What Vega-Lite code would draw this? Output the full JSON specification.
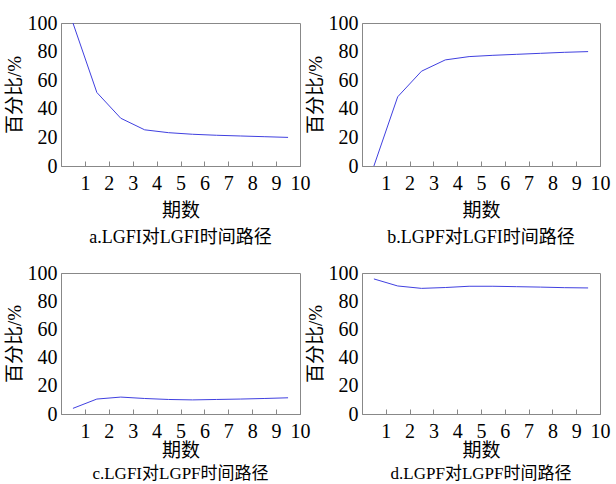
{
  "$schema": "https://vega.github.io/schema/vega-lite/v6.json",
  "padding": {"left": 4, "top": 12, "right": 5, "bottom": 0},
  "background": "white",
  "bounds": "flush",
  "columns": 2,
  "spacing": {"row": 107, "column": 62},
  "datasets": {
    "a": [
      {"t": 0.5, "p": 100}, {"t": 1.5, "p": 51.4}, {"t": 2.5, "p": 33.4}, {"t": 3.5, "p": 25.3},
      {"t": 4.5, "p": 23.3}, {"t": 5.5, "p": 22.2}, {"t": 6.5, "p": 21.5}, {"t": 7.5, "p": 21},
      {"t": 8.5, "p": 20.5}, {"t": 9.5, "p": 20}
    ],
    "b": [
      {"t": 0.5, "p": 0}, {"t": 1.5, "p": 48.4}, {"t": 2.5, "p": 66.3}, {"t": 3.5, "p": 74.2},
      {"t": 4.5, "p": 76.5}, {"t": 5.5, "p": 77.4}, {"t": 6.5, "p": 78.1}, {"t": 7.5, "p": 78.8},
      {"t": 8.5, "p": 79.5}, {"t": 9.5, "p": 80}
    ],
    "c": [
      {"t": 0.5, "p": 4}, {"t": 1.5, "p": 10.6}, {"t": 2.5, "p": 12}, {"t": 3.5, "p": 11},
      {"t": 4.5, "p": 10.3}, {"t": 5.5, "p": 10}, {"t": 6.5, "p": 10.3}, {"t": 7.5, "p": 10.6},
      {"t": 8.5, "p": 11}, {"t": 9.5, "p": 11.5}
    ],
    "d": [
      {"t": 0.5, "p": 95.8}, {"t": 1.5, "p": 90.8}, {"t": 2.5, "p": 89.1}, {"t": 3.5, "p": 89.7},
      {"t": 4.5, "p": 90.6}, {"t": 5.5, "p": 90.6}, {"t": 6.5, "p": 90.3}, {"t": 7.5, "p": 90},
      {"t": 8.5, "p": 89.6}, {"t": 9.5, "p": 89.4}
    ]
  },
  "config": {
    "view": {"stroke": "#888888", "strokeWidth": 1},
    "font": "Liberation Serif",
    "axis": {
      "grid": false,
      "domainColor": "#888888",
      "tickColor": "#888888",
      "labelFont": "Liberation Serif, serif",
      "labelFontSize": 20,
      "labelColor": "black",
      "titleFont": "Liberation Serif, Noto Sans CJK SC",
      "titleFontSize": 19,
      "titleFontWeight": "normal",
      "titleColor": "black"
    },
    "axisX": {"tickSize": -5, "labelPadding": 12, "labelFlush": false, "labelOverlap": false, "titlePadding": 8},
    "axisY": {"tickSize": 0, "labelPadding": 4, "titlePadding": 3, "labelFlush": false},
    "title": {"font": "Liberation Serif, Noto Sans CJK SC", "fontSize": 18, "fontWeight": "normal", "color": "black", "orient": "bottom", "offset": 9}
  },
  "concat": [
    {
      "data": {"name": "a"},
      "width": 239, "height": 143,
      "title": "a.LGFI对LGFI时间路径",
      "mark": {"type": "line", "color": "#4040e0", "strokeWidth": 1},
      "encoding": {
        "x": {"field": "t", "type": "quantitative", "scale": {"domain": [0, 10], "nice": false}, "axis": {"values": [1,2,3,4,5,6,7,8,9,10], "title": "期数"}},
        "y": {"field": "p", "type": "quantitative", "scale": {"domain": [0, 100], "nice": false}, "axis": {"values": [0,20,40,60,80,100], "title": "百分比/%"}}
      }
    },
    {
      "data": {"name": "b"},
      "width": 238, "height": 143,
      "title": "b.LGPF对LGFI时间路径",
      "mark": {"type": "line", "color": "#4040e0", "strokeWidth": 1},
      "encoding": {
        "x": {"field": "t", "type": "quantitative", "scale": {"domain": [0, 10], "nice": false}, "axis": {"values": [1,2,3,4,5,6,7,8,9,10], "title": "期数"}},
        "y": {"field": "p", "type": "quantitative", "scale": {"domain": [0, 100], "nice": false}, "axis": {"values": [0,20,40,60,80,100], "title": "百分比/%"}}
      }
    },
    {
      "data": {"name": "c"},
      "width": 239, "height": 141,
      "title": {"text": "c.LGFI对LGPF时间路径", "offset": 6, "fontSize": 17},
      "mark": {"type": "line", "color": "#4040e0", "strokeWidth": 1},
      "encoding": {
        "x": {"field": "t", "type": "quantitative", "scale": {"domain": [0, 10], "nice": false}, "axis": {"values": [1,2,3,4,5,6,7,8,9,10], "title": "期数", "titlePadding": 0}},
        "y": {"field": "p", "type": "quantitative", "scale": {"domain": [0, 100], "nice": false}, "axis": {"values": [0,20,40,60,80,100], "title": "百分比/%"}}
      }
    },
    {
      "data": {"name": "d"},
      "width": 238, "height": 141,
      "title": {"text": "d.LGPF对LGPF时间路径", "offset": 6, "fontSize": 17},
      "mark": {"type": "line", "color": "#4040e0", "strokeWidth": 1},
      "encoding": {
        "x": {"field": "t", "type": "quantitative", "scale": {"domain": [0, 10], "nice": false}, "axis": {"values": [1,2,3,4,5,6,7,8,9,10], "title": "期数", "titlePadding": 0}},
        "y": {"field": "p", "type": "quantitative", "scale": {"domain": [0, 100], "nice": false}, "axis": {"values": [0,20,40,60,80,100], "title": "百分比/%"}}
      }
    }
  ]
}
